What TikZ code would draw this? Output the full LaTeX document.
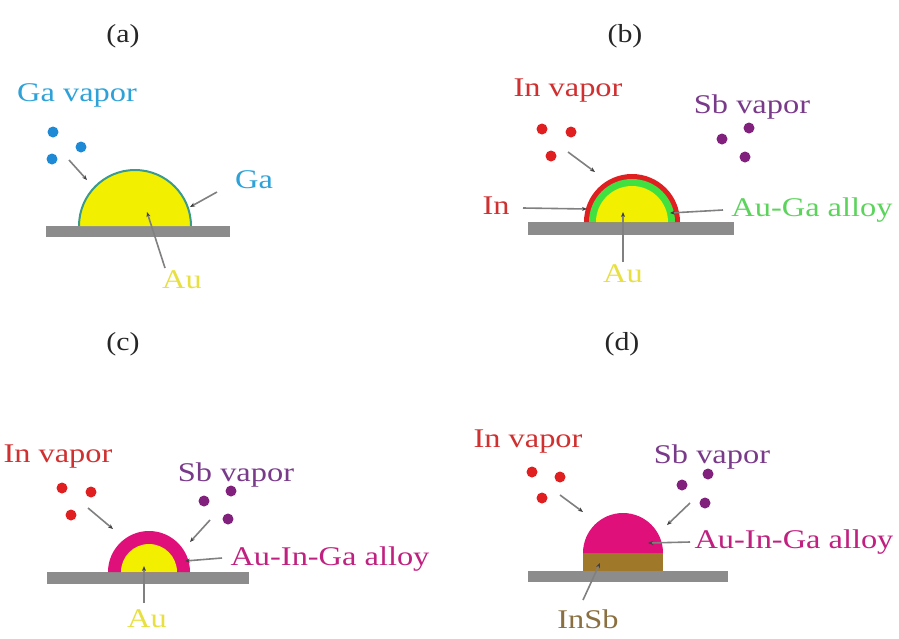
\documentclass[tikz,border=0pt]{standalone}
\usepackage{fontspec}
\setmainfont{Liberation Serif}
\usetikzlibrary{arrows.meta}
\definecolor{gablue}{HTML}{2EA2D8}
\definecolor{gadot}{HTML}{1E8AD6}
\definecolor{gateal}{HTML}{3A9A8E}
\definecolor{auyellow}{HTML}{F2F000}
\definecolor{autext}{HTML}{E8E040}
\definecolor{subgray}{HTML}{8C8C8C}
\definecolor{inred}{HTML}{E02020}
\definecolor{intext}{HTML}{D03030}
\definecolor{agreen}{HTML}{40E040}
\definecolor{agtext}{HTML}{5CD45C}
\definecolor{sbpurple}{HTML}{82207E}
\definecolor{sbtext}{HTML}{7A3A8A}
\definecolor{magent}{HTML}{E0107A}
\definecolor{magtext}{HTML}{C02080}
\definecolor{brownish}{HTML}{A0782A}
\definecolor{browntext}{HTML}{8A7040}
\definecolor{leadgray}{HTML}{808080}
\begin{document}
\begin{tikzpicture}[x=1pt,y=-1pt,
  lbl/.style={font=\fontsize{27}{30}\selectfont, xscale=1.2, inner sep=0pt, anchor=base},
  tag/.style={font=\fontsize{26}{30}\selectfont, xscale=1.15, inner sep=0pt, anchor=base, text=black!85},
  dot/.style={circle, inner sep=0pt, minimum size=11pt},
  lead/.style={draw=leadgray, line width=1.6pt, -{Stealth[length=5pt,width=4pt,color=black!75]}}
]
\useasboundingbox (0,0) rectangle (899,638);
\fill[white] (0,0) rectangle (899,638);

% ---------- panel (a)
\node[tag] (ta) at (123,42) {(a)};
\node[lbl, text=gablue] (gavap) at (77,101) {Ga vapor};
\node[dot, fill=gadot] (ga1) at (53,132) {};
\node[dot, fill=gadot] (ga2) at (81,147) {};
\node[dot, fill=gadot] (ga3) at (52,159) {};
\fill[subgray] (46,226) rectangle (230,237);
\filldraw[fill=auyellow, draw=gateal, line width=2pt] (79,226) arc[start angle=180,end angle=360,radius=56];
\coordinate (gaS) at (69,160); \coordinate (gaE) at (87,180);
\draw[lead] (gaS) -- (gaE);
\node[lbl, text=gablue] (galbl) at (254,188) {Ga};
\coordinate (galS) at (217,192); \coordinate (galE) at (190,207);
\draw[lead] (galS) -- (galE);
\node[lbl, text=autext] (aua) at (182,288) {Au};
\coordinate (auaS) at (165,268); \coordinate (auaE) at (147,212);
\draw[lead] (auaS) -- (auaE);

% ---------- panel (b)
\node[tag] (tb) at (625,42) {(b)};
\node[lbl, text=intext] (invb) at (568,96) {In vapor};
\node[dot, fill=inred] (inb1) at (542,129) {};
\node[dot, fill=inred] (inb2) at (571,132) {};
\node[dot, fill=inred] (inb3) at (551,156) {};
\node[lbl, text=sbtext] (sbvb) at (752,113) {Sb vapor};
\node[dot, fill=sbpurple] (sbb1) at (722,139) {};
\node[dot, fill=sbpurple] (sbb2) at (749,128) {};
\node[dot, fill=sbpurple] (sbb3) at (745,157) {};
\fill[subgray] (528,222) rectangle (734,235);
\fill[inred] (584,222) arc[start angle=180,end angle=360,radius=48] -- cycle;
\fill[agreen] (589,222) arc[start angle=180,end angle=360,radius=43] -- cycle;
\fill[auyellow] (596,222) arc[start angle=180,end angle=360,radius=36] -- cycle;
\coordinate (inbS) at (568,152); \coordinate (inbE) at (595,172);
\draw[lead] (inbS) -- (inbE);
\node[lbl, text=intext] (inlbl) at (496,214) {In};
\coordinate (inlS) at (523,208); \coordinate (inlE) at (587,209);
\draw[lead] (inlS) -- (inlE);
\node[lbl, text=agtext] (aglbl) at (812,216) {Au-Ga alloy};
\coordinate (aglS) at (723,210); \coordinate (aglE) at (670,213);
\draw[lead] (aglS) -- (aglE);
\node[lbl, text=autext] (aub) at (623,282) {Au};
\coordinate (aubS) at (623,262); \coordinate (aubE) at (623,212);
\draw[lead] (aubS) -- (aubE);

% ---------- panel (c)
\node[tag] (tc) at (123,350) {(c)};
\node[lbl, text=intext] (invc) at (58,462) {In vapor};
\node[dot, fill=inred] (inc1) at (62,488) {};
\node[dot, fill=inred] (inc2) at (91,492) {};
\node[dot, fill=inred] (inc3) at (71,515) {};
\node[lbl, text=sbtext] (sbvc) at (236,481) {Sb vapor};
\node[dot, fill=sbpurple] (sbc1) at (204,501) {};
\node[dot, fill=sbpurple] (sbc2) at (231,491) {};
\node[dot, fill=sbpurple] (sbc3) at (228,519) {};
\fill[subgray] (47,572) rectangle (249,584);
\fill[magent] (108,572) arc[start angle=180,end angle=360,radius=41] -- cycle;
\fill[auyellow] (121,572) arc[start angle=180,end angle=360,radius=28] -- cycle;
\coordinate (incS) at (88,508); \coordinate (incE) at (113,529);
\draw[lead] (incS) -- (incE);
\coordinate (sbcS) at (210,520); \coordinate (sbcE) at (190,542);
\draw[lead] (sbcS) -- (sbcE);
\node[lbl, text=magtext] (aigc) at (330,565) {Au-In-Ga alloy};
\coordinate (aigcS) at (222,558); \coordinate (aigcE) at (185,561);
\draw[lead] (aigcS) -- (aigcE);
\node[lbl, text=autext] (auc) at (147,627) {Au};
\coordinate (aucS) at (144,603); \coordinate (aucE) at (144,566);
\draw[lead] (aucS) -- (aucE);

% ---------- panel (d)
\node[tag] (td) at (622,350) {(d)};
\node[lbl, text=intext] (invd) at (528,447) {In vapor};
\node[dot, fill=inred] (ind1) at (532,472) {};
\node[dot, fill=inred] (ind2) at (560,477) {};
\node[dot, fill=inred] (ind3) at (542,498) {};
\node[lbl, text=sbtext] (sbvd) at (712,463) {Sb vapor};
\node[dot, fill=sbpurple] (sbd1) at (682,485) {};
\node[dot, fill=sbpurple] (sbd2) at (708,474) {};
\node[dot, fill=sbpurple] (sbd3) at (705,503) {};
\fill[subgray] (528,571) rectangle (728,582);
\fill[brownish] (583,553) rectangle (663,571);
\fill[magent] (583,553) arc[start angle=180,end angle=360,radius=40] -- cycle;
\coordinate (indS) at (560,495); \coordinate (indE) at (583,512);
\draw[lead] (indS) -- (indE);
\coordinate (sbdS) at (690,503); \coordinate (sbdE) at (667,525);
\draw[lead] (sbdS) -- (sbdE);
\node[lbl, text=magtext] (aigd) at (794,548) {Au-In-Ga alloy};
\coordinate (aigdS) at (690,542); \coordinate (aigdE) at (648,543);
\draw[lead] (aigdS) -- (aigdE);
\node[lbl, text=browntext] (insb) at (588,628) {InSb};
\coordinate (insbS) at (583,600); \coordinate (insbE) at (600,563);
\draw[lead] (insbS) -- (insbE);
\end{tikzpicture}
\end{document}
